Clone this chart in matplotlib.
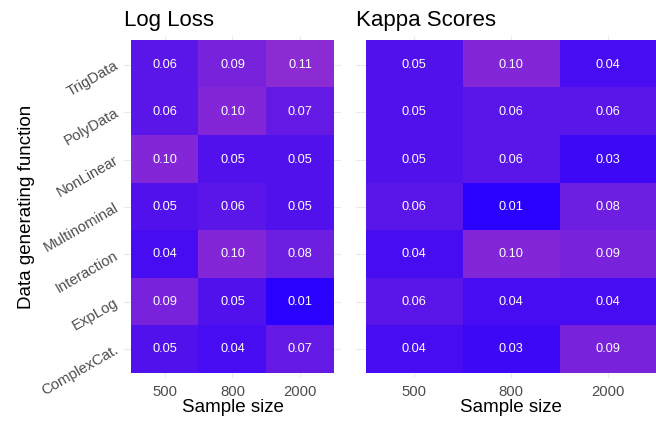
import numpy as np
import matplotlib
matplotlib.use("Agg")
import matplotlib.pyplot as plt
from matplotlib.colors import LinearSegmentedColormap, Normalize

plt.rcParams['font.family'] = ['Liberation Sans', 'DejaVu Sans']

# data (rows top to bottom)
functions = ['TrigData', 'PolyData', 'NonLinear', 'Multinominal',
             'Interaction', 'ExpLog', 'ComplexCat.']
sample_sizes = ['500', '800', '2000']

log_loss = [[0.06, 0.09, 0.11],
            [0.06, 0.10, 0.07],
            [0.10, 0.05, 0.05],
            [0.05, 0.06, 0.05],
            [0.04, 0.10, 0.08],
            [0.09, 0.05, 0.01],
            [0.05, 0.04, 0.07]]

kappa = [[0.05, 0.10, 0.04],
         [0.05, 0.06, 0.06],
         [0.05, 0.06, 0.03],
         [0.06, 0.01, 0.08],
         [0.04, 0.10, 0.09],
         [0.06, 0.04, 0.04],
         [0.04, 0.03, 0.09]]

cmap = LinearSegmentedColormap.from_list('bp', ['#2a00ff', '#8c2bd4'])
norm = Normalize(0.01, 0.11)

W, H = 656, 423
fig = plt.figure(figsize=(W / 100, H / 100), dpi=100)

ax1 = fig.add_axes([124.2 / W, 45.3 / H, 216.5 / W, 341.5 / H])
ax2 = fig.add_axes([356.3 / W, 45.3 / H, 309.4 / W, 341.5 / H])


def draw(ax, vals, title, ylabels):
    arr = np.array(vals)
    nr, nc = arr.shape
    ax.set_xlim(-0.6, nc - 0.4)
    ax.set_ylim(nr - 0.4, -0.6)
    ax.set_xticks(range(nc))
    ax.set_yticks(range(nr))
    ax.grid(True, color='#ebebeb', lw=0.8, zorder=0)
    ax.set_axisbelow(True)
    ax.imshow(arr, cmap=cmap, norm=norm, aspect='auto', zorder=2,
              extent=(-0.5, nc - 0.5, nr - 0.5, -0.5), interpolation='nearest')
    for i in range(nr):
        for j in range(nc):
            ax.text(j, i, f'{arr[i, j]:.2f}', ha='center', va='center',
                    color='white', fontsize=9.2, zorder=3)
    for s in ax.spines.values():
        s.set_visible(False)
    ax.tick_params(length=0, colors='#4d4d4d', labelsize=10.7)
    ax.set_xticklabels(sample_sizes)
    ax.tick_params(axis='x', pad=5)
    ax.set_xlabel('Sample size', fontsize=13.5, labelpad=0)
    if ylabels:
        ax.set_yticklabels(functions, rotation=30, ha='right', va='center',
                           rotation_mode='anchor')
        ax.tick_params(axis='y', pad=5)
        ax.set_ylabel('Data generating function', fontsize=13.5, labelpad=3)
    else:
        ax.set_yticklabels([])
    pos = ax.get_position()
    fig.text(pos.x0, 1 - 26 / H, title, fontsize=16, va='baseline', ha='left')


draw(ax1, log_loss, 'Log Loss', True)
draw(ax2, kappa, 'Kappa Scores', False)

fig.savefig('out.png', dpi=100)
